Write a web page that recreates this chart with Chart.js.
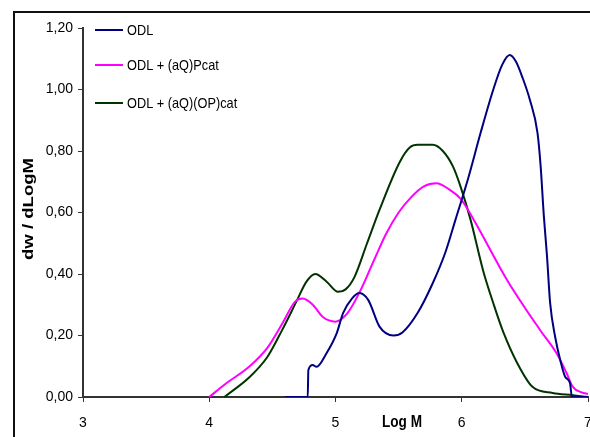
<!DOCTYPE html>
<html>
<head>
<meta charset="utf-8">
<script src="https://cdn.jsdelivr.net/npm/chart.js@4/dist/chart.umd.min.js"></script>
<style>
  html, body { margin: 0; padding: 0; background: #fff; }
  #grafico { display: block; }
</style>
</head>
<body>
<canvas id="grafico" width="590" height="437"></canvas>
<script>
// dados (Log M x dw/dLogM)
const nomesSeries = ['ODL', 'ODL + (aQ)Pcat', 'ODL + (aQ)(OP)cat'];
const coresSeries = ['#000080', '#ff00ff', '#003300'];

const odlX = [4.6, 4.78, 4.785, 4.82, 4.85, 4.93, 5.01, 5.06, 5.13, 5.19, 5.26, 5.35, 5.46, 5.53, 5.65, 5.77, 5.87, 5.95, 6.05, 6.15, 6.25, 6.32, 6.38, 6.43, 6.48, 6.54, 6.60, 6.625, 6.65, 6.675, 6.70, 6.74, 6.78, 6.82, 6.857, 6.873, 7.0];
const odlY = [0, 0, 0.088, 0.104, 0.098, 0.143, 0.208, 0.273, 0.32, 0.338, 0.315, 0.228, 0.20, 0.21, 0.273, 0.37, 0.47, 0.576, 0.71, 0.86, 1.00, 1.08, 1.112, 1.09, 1.04, 0.966, 0.859, 0.75, 0.59, 0.46, 0.306, 0.195, 0.12, 0.065, 0.046, 0, 0];

const pcatX = [4.0, 4.12, 4.32, 4.46, 4.58, 4.68, 4.74, 4.82, 4.90, 5.0, 5.09, 5.19, 5.30, 5.40, 5.50, 5.60, 5.70, 5.80, 5.90, 5.99, 6.09, 6.36, 6.62, 6.75, 6.83, 6.88, 6.95, 7.0];
const pcatY = [0, 0.04, 0.10, 0.16, 0.24, 0.31, 0.32, 0.30, 0.26, 0.245, 0.27, 0.34, 0.44, 0.53, 0.60, 0.65, 0.685, 0.695, 0.675, 0.645, 0.58, 0.38, 0.218, 0.143, 0.078, 0.033, 0.015, 0.01];

const opcatX = [4.12, 4.32, 4.46, 4.58, 4.69, 4.77, 4.84, 4.93, 5.02, 5.08, 5.15, 5.25, 5.35, 5.51, 5.59, 5.65, 5.77, 5.85, 5.93, 5.99, 6.07, 6.17, 6.25, 6.33, 6.44, 6.56, 6.72, 6.88, 7.0];
const opcatY = [0, 0.065, 0.13, 0.22, 0.31, 0.375, 0.40, 0.375, 0.342, 0.35, 0.39, 0.50, 0.61, 0.765, 0.812, 0.82, 0.82, 0.80, 0.75, 0.685, 0.576, 0.41, 0.305, 0.21, 0.11, 0.033, 0.013, 0.006, 0];

const tituloX = 'Log M';
const tituloY = 'dw / dLogM';

const fonte = '"Liberation Sans", Arial, sans-serif';

function pontos(xs, ys) {
  return xs.map((x, i) => ({ x: x, y: ys[i] }));
}

function criarSerie(indice, xs, ys) {
  return {
    label: nomesSeries[indice],
    data: pontos(xs, ys),
    borderColor: coresSeries[indice],
    backgroundColor: coresSeries[indice],
    borderWidth: 2,
    pointRadius: 0,
    showLine: true,
    cubicInterpolationMode: 'monotone'
  };
}

// escreve texto comprimido na horizontal (fonte "narrow")
function textoEstreito(ctx, texto, x, y, fator) {
  ctx.save();
  ctx.translate(x, y);
  ctx.scale(fator, 1);
  ctx.fillText(texto, 0, 0);
  ctx.restore();
}

// moldura, legenda e títulos dos eixos
const extras = {
  id: 'extras',
  beforeDraw(chart) {
    const ctx = chart.ctx;
    ctx.save();
    ctx.fillStyle = '#fff';
    ctx.fillRect(0, 0, chart.width, chart.height);
    ctx.strokeStyle = '#111';
    ctx.lineWidth = 2;
    ctx.beginPath();
    ctx.moveTo(14, chart.height);
    ctx.lineTo(14, 12);
    ctx.lineTo(chart.width, 12);
    ctx.stroke();
    ctx.restore();
  },
  afterDraw(chart) {
    const ctx = chart.ctx;
    ctx.save();
    // legenda
    const linhas = [30, 65, 103];
    ctx.font = '15px ' + fonte;
    ctx.textBaseline = 'middle';
    ctx.textAlign = 'left';
    chart.data.datasets.forEach((ds, i) => {
      ctx.strokeStyle = ds.borderColor;
      ctx.lineWidth = 2;
      ctx.beginPath();
      ctx.moveTo(95, linhas[i]);
      ctx.lineTo(123, linhas[i]);
      ctx.stroke();
      ctx.fillStyle = '#000';
      textoEstreito(ctx, ds.label, 127, linhas[i] + 1, 0.85);
    });
    // título eixo x
    ctx.font = 'bold 16px ' + fonte;
    ctx.textAlign = 'center';
    textoEstreito(ctx, tituloX, 402, 423, 0.85);
    // título eixo y
    ctx.translate(28.5, 209);
    ctx.rotate(-Math.PI / 2);
    ctx.font = 'bold 15px ' + fonte;
    const largura = ctx.measureText(tituloY).width;
    ctx.scale(102 / largura, 1);
    ctx.fillText(tituloY, 0, 0);
    ctx.restore();
  }
};

const graficoGPC = new Chart(document.getElementById('grafico'), {
  type: 'scatter',
  data: {
    datasets: [
      criarSerie(0, odlX, odlY),
      criarSerie(1, pcatX, pcatY),
      criarSerie(2, opcatX, opcatY)
    ]
  },
  options: {
    responsive: false,
    animation: false,
    devicePixelRatio: 1,
    layout: { padding: { left: 0, top: 28, right: 2, bottom: 0 } },
    plugins: {
      legend: { display: false },
      tooltip: { enabled: false }
    },
    scales: {
      x: {
        type: 'linear',
        min: 3,
        max: 7,
        border: { display: true, color: '#333', width: 2 },
        grid: { drawOnChartArea: false, drawTicks: true, tickLength: 5, color: '#333', lineWidth: 1 },
        ticks: { stepSize: 1, padding: 13, color: '#000', font: { family: fonte, size: 14 } },
        afterFit(escala) {
          escala.height = 40;
          escala.paddingLeft = 0;
          escala.paddingRight = 0;
        }
      },
      y: {
        min: 0,
        max: 1.2,
        border: { display: true, color: '#333', width: 2 },
        grid: { drawOnChartArea: false, drawTicks: true, tickLength: 5, color: '#333', lineWidth: 1 },
        ticks: {
          stepSize: 0.2,
          padding: 5,
          color: '#000',
          font: { family: fonte, size: 14 },
          callback: (valor) => valor.toFixed(2).replace('.', ',')
        },
        afterFit(escala) {
          escala.width = 83;
        }
      }
    }
  },
  plugins: [extras]
});
</script>
</body>
</html>
